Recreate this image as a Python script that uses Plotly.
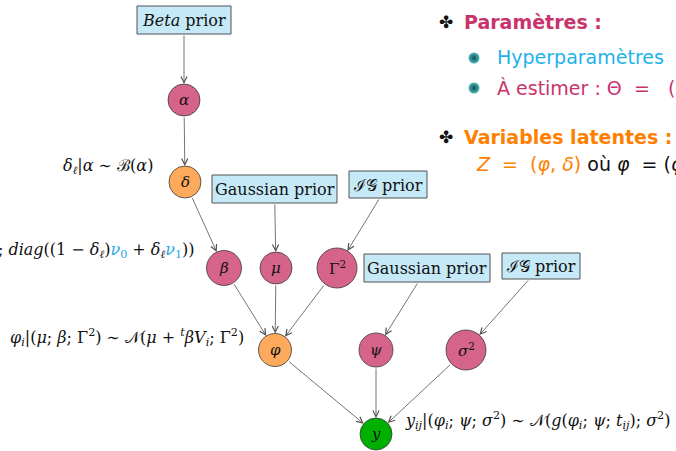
import plotly.graph_objects as go
import math

W, H = 676, 451

# ---- diagram data ----
node_names = ["alpha", "delta", "beta", "mu", "Gamma2", "phi", "psi", "sigma2", "y"]
node_labels = ["<i>α</i>", "<i>δ</i>", "<i>β</i>", "<i>μ</i>", "Γ<sup>2</sup>", "<i>φ</i>", "<i>ψ</i>", "<i>σ</i><sup>2</sup>", "<i>y</i>"]
node_x = [184, 185, 224, 276, 337, 275, 376, 466, 376]
node_y = [100, 182, 268, 268, 268, 350, 350, 350, 434]
node_r = [16, 16, 17.5, 16, 20, 16.5, 17, 20, 16]
node_kind = ["param", "latent", "param", "param", "param", "latent", "param", "param", "obs"]

box_names = ["beta_prior", "gauss1", "ig1", "gauss2", "ig2"]
box_labels = ["<i>Beta</i> prior", "Gaussian prior", "ℐ𝒢 prior", "Gaussian prior", "ℐ𝒢 prior"]
box_x0 = [137, 212, 349, 364, 502]
box_x1 = [231, 337, 427, 490, 580]
box_y0 = [6, 175, 171, 254, 253]
box_y1 = [34, 203, 198, 282, 279]

edges = [("beta_prior", "alpha"), ("alpha", "delta"), ("delta", "beta"),
         ("gauss1", "mu"), ("ig1", "Gamma2"), ("beta", "phi"), ("mu", "phi"),
         ("Gamma2", "phi"), ("gauss2", "psi"), ("ig2", "sigma2"),
         ("phi", "y"), ("psi", "y"), ("sigma2", "y")]

kind_colors = {"param": "#d6648a", "latent": "#fdaa5c", "obs": "#00b000"}
BOX_FILL = "#c6e9f7"
LINE = "#505050"
NU = "#27aae1"
MAGENTA = "#c9336c"
ORANGE = "#ff8000"
CYAN = "#1eb2ea"
NB = "\u00a0"

formulas = [
    ("<i>δ</i><sub><i>ℓ</i></sub>|<i>α</i> ∼ ℬ(<i>α</i>)", 155, 166, "right"),
    ("<i>β</i>|<i>δ</i><sub><i>ℓ</i></sub> ∼ 𝒩(0; <i>diag</i>((1 − <i>δ</i><sub><i>ℓ</i></sub>)"
     f"<span style='color:{NU}'><i>ν</i><sub>0</sub></span> + <i>δ</i><sub><i>ℓ</i></sub>"
     f"<span style='color:{NU}'><i>ν</i><sub>1</sub></span>))", 196, 250, "right"),
    ("<i>φ</i><sub><i>i</i></sub>|(<i>μ</i>; <i>β</i>; Γ<sup>2</sup>) ∼ 𝒩(<i>μ</i> + <sup><i>t</i></sup><i>βV</i><sub><i>i</i></sub>; Γ<sup>2</sup>)", 8, 337, "left"),
    ("<i>y</i><sub><i>ij</i></sub>|(<i>φ</i><sub><i>i</i></sub>; <i>ψ</i>; <i>σ</i><sup>2</sup>) ∼ 𝒩(<i>g</i>(<i>φ</i><sub><i>i</i></sub>; <i>ψ</i>; <i>t</i><sub><i>ij</i></sub>); <i>σ</i><sup>2</sup>)", 403, 420, "left"),
]

SERIF = "DejaVu Serif, Liberation Serif, serif"
SANS = "DejaVu Sans, sans-serif"

fig = go.Figure()
shapes = []
annotations = []

nodes = {}
for n, lab, x, y, r, k in zip(node_names, node_labels, node_x, node_y, node_r, node_kind):
    nodes[n] = ("c", x, y, r)
    shapes.append(dict(type="circle", xref="x", yref="y", x0=x - r, x1=x + r, y0=y - r, y1=y + r,
                       fillcolor=kind_colors[k], line=dict(color="#3a3a3a", width=0.8), layer="above"))
    annotations.append(dict(x=x, y=y, xref="x", yref="y", text=lab, showarrow=False,
                            font=dict(family=SERIF, size=15, color="#111")))

for n, lab, x0, x1, y0, y1 in zip(box_names, box_labels, box_x0, box_x1, box_y0, box_y1):
    nodes[n] = ("b", x0, x1, y0, y1)
    shapes.append(dict(type="rect", xref="x", yref="y", x0=x0, x1=x1, y0=y0, y1=y1,
                       fillcolor=BOX_FILL, line=dict(color="#505050", width=1), layer="above"))
    annotations.append(dict(x=(x0 + x1) / 2, y=(y0 + y1) / 2 + 0.5, xref="x", yref="y", text=lab,
                            showarrow=False, font=dict(family=SERIF, size=16, color="#111")))


def center(n):
    d = nodes[n]
    if d[0] == "c":
        return d[1], d[2]
    return (d[1] + d[2]) / 2, (d[3] + d[4]) / 2


def exit_point(n, dx, dy):
    # point on boundary of node n in direction (dx, dy) from its center
    d = nodes[n]
    cx, cy = center(n)
    L = math.hypot(dx, dy)
    ux, uy = dx / L, dy / L
    if d[0] == "c":
        return cx + ux * d[3], cy + uy * d[3]
    hw = (d[2] - d[1]) / 2
    hh = (d[4] - d[3]) / 2
    ts = []
    if abs(ux) > 1e-9:
        ts.append(hw / abs(ux))
    if abs(uy) > 1e-9:
        ts.append(hh / abs(uy))
    t = min(ts)
    return cx + ux * t, cy + uy * t


for a, b in edges:
    ax_, ay_ = center(a)
    bx_, by_ = center(b)
    sx, sy = exit_point(a, bx_ - ax_, by_ - ay_)
    ex, ey = exit_point(b, ax_ - bx_, ay_ - by_)
    annotations.append(dict(x=ex, y=ey, ax=sx, ay=sy, xref="x", yref="y", axref="x", ayref="y",
                            text="", showarrow=True, arrowhead=5, arrowsize=1.5, arrowwidth=0.8,
                            arrowcolor=LINE))

for txt, x, y, anchor in formulas:
    annotations.append(dict(x=x, y=y, xref="x", yref="y", text=txt, showarrow=False,
                            xanchor=anchor, yanchor="middle",
                            font=dict(family=SERIF, size=16, color="#111")))

# ---- right-hand text panel ----
panel = [
    ("✤", 437, 22, 17, "#111"),
    (f"<b><span style='color:{MAGENTA}'>Paramètres :</span></b>", 462, 22, 19, MAGENTA),
    (f"<span style='color:{CYAN}'>Hyperparamètres{NB}{NB}: ν<sub>0</sub>, ν<sub>1</sub></span>", 495, 58, 19, CYAN),
    (f"<span style='color:{MAGENTA}'>À estimer : Θ{NB}{NB}={NB}{NB}{NB}(α, μ, Γ<sup>2</sup>, ψ, σ<sup>2</sup>)</span>", 495, 87, 19, MAGENTA),
    ("✤", 437, 137, 17, "#111"),
    (f"<b><span style='color:{ORANGE}'>Variables latentes :</span></b>", 462, 137, 19, ORANGE),
    (f"<span style='color:{ORANGE}'><i>Z</i>{NB}{NB}={NB}{NB}(<i>φ</i>, <i>δ</i>)</span>{NB}où <i>φ</i>{NB}{NB}={NB}(<i>φ</i><sub>1</sub>, …, <i>φ</i><sub><i>N</i></sub>)", 474, 165, 19, "#111"),
]
for txt, x, y, size, col in panel:
    annotations.append(dict(x=x, y=y, xref="x", yref="y", text=txt, showarrow=False,
                            xanchor="left", yanchor="middle",
                            font=dict(family=SANS, size=size, color=col)))

bullet_x = [474, 474]
bullet_y = [58, 88]
fig.add_trace(go.Scatter(x=bullet_x, y=bullet_y, mode="markers", hoverinfo="skip",
                         marker=dict(size=11, color="#4fb8b8",
                                     gradient=dict(type="radial", color="#0b4f55"),
                                     line=dict(width=0))))

fig.update_layout(
    width=W, height=H, margin=dict(l=0, r=0, t=0, b=0),
    paper_bgcolor="white", plot_bgcolor="white", showlegend=False,
    xaxis=dict(range=[0, W], visible=False, fixedrange=True),
    yaxis=dict(range=[H, 0], visible=False, fixedrange=True),
    shapes=shapes, annotations=annotations,
)

fig.write_html("out.html", config={"displayModeBar": False},
               post_script="document.body.style.margin='0';document.body.style.overflow='hidden';")
